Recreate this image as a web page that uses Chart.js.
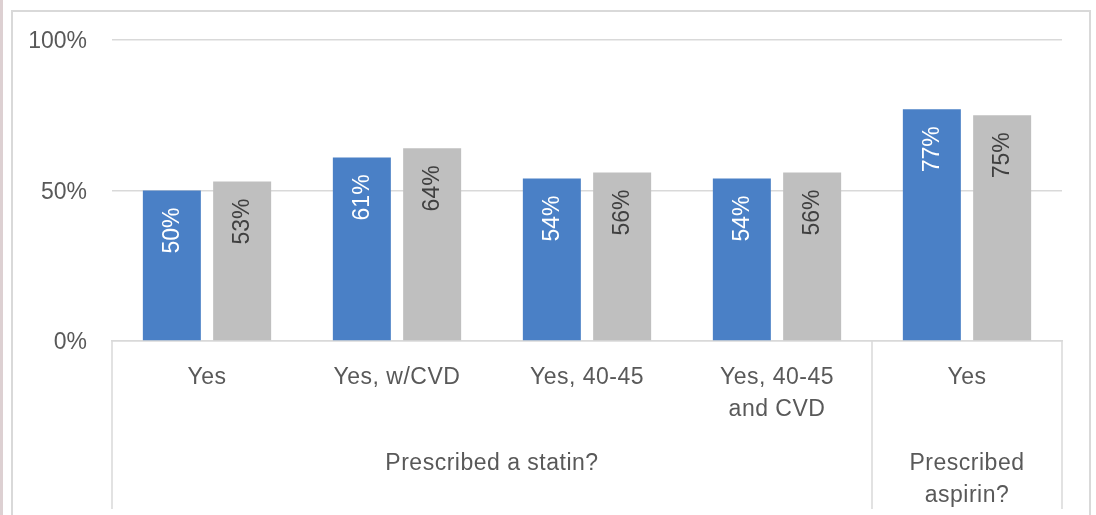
<!DOCTYPE html>
<html>
<head>
<meta charset="utf-8">
<script src="https://cdn.jsdelivr.net/npm/chart.js@4.4.1/dist/chart.umd.min.js"></script>
<style>
  body { margin: 0; background: #fff; overflow: hidden; }
  #wrap { position: relative; width: 1096px; height: 515px; }
  #strip { position: absolute; left: 0; top: 0; width: 3px; height: 515px; background: #ddd0d2; }
  #frame { position: absolute; left: 11px; top: 10px; width: 1076px; height: 520px;
           border: 2px solid #d9d9d9; pointer-events: none; }
  canvas { position: absolute; left: 0; top: 0; }
</style>
</head>
<body>
<div id="wrap">
  <div id="strip"></div>
  <div id="frame"></div>
  <canvas id="barChart" width="1096" height="515"></canvas>
</div>
<script>
// categories (second axis level), the groups above them, and both series in %
const categories = [['Yes'], ['Yes, w/CVD'], ['Yes, 40-45'], ['Yes, 40-45', 'and CVD'], ['Yes']];
const groupLabels = [['Prescribed a statin?'], ['Prescribed', 'aspirin?']];
const groupSpans = [[0, 3], [4, 4]];
const seriesA = [50, 61, 54, 54, 77];
const seriesB = [53, 64, 56, 56, 75];
const yTicks = [0, 50, 100];

const axisColor = '#d9d9d9';
const textColor = '#595959';
const fontFamily = '"Liberation Sans", Arial, sans-serif';

// value labels rotated inside the top of each bar
const barLabels = {
    id: 'barLabels',
    afterDatasetsDraw(chart) {
        const ctx = chart.ctx;
        const colors = ['#ffffff', '#404040'];
        chart.data.datasets.forEach((ds, di) => {
            chart.getDatasetMeta(di).data.forEach((bar, i) => {
                ctx.save();
                ctx.translate(bar.x + 1, bar.y + 17);
                ctx.rotate(-Math.PI / 2);
                ctx.font = '23px ' + fontFamily;
                ctx.fillStyle = colors[di];
                ctx.textAlign = 'right';
                ctx.textBaseline = 'middle';
                ctx.fillText(ds.data[i] + '%', 0, 0);
                ctx.restore();
            });
        });
    }
};

// two-level category axis: labels, group labels and the dividers between groups
const multiLevelAxis = {
    id: 'multiLevelAxis',
    afterDraw(chart) {
        const ctx = chart.ctx;
        const x = chart.scales.x;
        const bottom = chart.chartArea.bottom;
        const step = x.getPixelForValue(1) - x.getPixelForValue(0);
        ctx.save();
        ctx.font = '23px ' + fontFamily;
        ctx.letterSpacing = '0.5px';
        ctx.fillStyle = textColor;
        ctx.textAlign = 'center';
        ctx.textBaseline = 'middle';
        categories.forEach((lines, i) => {
            const cx = x.getPixelForValue(i);
            lines.forEach((t, li) => ctx.fillText(t, cx, bottom + 37 + li * 32));
        });
        ctx.strokeStyle = axisColor;
        ctx.lineWidth = 1.5;
        const edges = [x.left];
        groupSpans.forEach(([a, b], gi) => {
            const left = x.getPixelForValue(a) - step / 2;
            const right = x.getPixelForValue(b) + step / 2;
            edges.push(right);
            groupLabels[gi].forEach((t, li) => ctx.fillText(t, (left + right) / 2, bottom + 123 + li * 32));
        });
        edges.forEach(ex => {
            ctx.beginPath();
            ctx.moveTo(ex, bottom);
            ctx.lineTo(ex, bottom + 168);
            ctx.stroke();
        });
        ctx.restore();
    }
};

const ctxBar = document.getElementById('barChart').getContext('2d');
const barChart = new Chart(ctxBar, {
    type: 'bar',
    data: {
        labels: categories.map(c => c.join(' ')),
        datasets: [{
            label: 'Series 1',
            data: seriesA,
            backgroundColor: '#4a80c6',
            categoryPercentage: 0.74,
            barPercentage: 0.825
        }, {
            label: 'Series 2',
            data: seriesB,
            backgroundColor: '#bfbfbf',
            categoryPercentage: 0.74,
            barPercentage: 0.825
        }]
    },
    options: {
        responsive: false,
        animation: false,
        layout: { padding: { top: 40, right: 34, bottom: 166, left: 0 } },
        plugins: { legend: { display: false }, tooltip: { enabled: false } },
        scales: {
            x: {
                grid: { display: false },
                border: { display: true, color: axisColor, width: 1.5 },
                ticks: { display: false }
            },
            y: {
                min: 0,
                max: 100,
                afterBuildTicks: s => { s.ticks = yTicks.map(v => ({ value: v })); },
                afterFit: s => { s.width = 112; },
                grid: { color: axisColor, lineWidth: 1.5, drawTicks: false },
                border: { display: false },
                ticks: {
                    padding: 25,
                    labelOffset: 2,
                    color: textColor,
                    font: { family: fontFamily, size: 23 },
                    callback: v => v + '%'
                }
            }
        }
    },
    plugins: [barLabels, multiLevelAxis]
});
</script>
</body>
</html>
